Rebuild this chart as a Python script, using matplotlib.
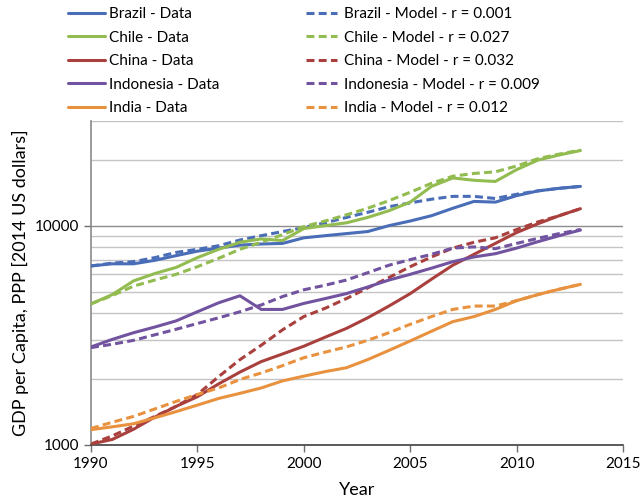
import matplotlib.pyplot as plt
from matplotlib.ticker import FixedLocator, NullFormatter, FixedFormatter

years = list(range(1990, 2014))

brazil_data = [6550, 6700, 6700, 6950, 7300, 7650, 7900, 8150, 8250, 8300, 8800, 9000,
               9200, 9400, 10000, 10500, 11100, 12000, 12900, 12800, 13700, 14400, 14800, 15100]
brazil_model = [6550, 6750, 6850, 7150, 7550, 7800, 8100, 8600, 9000, 9400, 9800, 10300,
                10900, 11500, 12200, 12700, 13200, 13600, 13600, 13300, 13900, 14400, 14800, 15100]
chile_data = [4400, 4850, 5600, 6050, 6450, 7150, 7800, 8400, 8700, 8550, 9700, 10000,
              10300, 10900, 11700, 12800, 15100, 16500, 16100, 15900, 18000, 19900, 21000, 22000]
chile_model = [4400, 4800, 5300, 5650, 6000, 6500, 7100, 7800, 8400, 9100, 9900, 10500,
               11200, 12000, 13000, 14200, 15600, 16800, 17300, 17600, 18700, 20200, 21200, 22100]
china_data = [1010, 1060, 1180, 1340, 1500, 1660, 1900, 2150, 2400, 2600, 2820, 3100,
              3400, 3800, 4300, 4900, 5700, 6600, 7400, 8300, 9300, 10200, 11100, 11950]
china_model = [1010, 1100, 1220, 1350, 1500, 1700, 2050, 2450, 2850, 3350, 3850, 4200,
               4650, 5200, 5800, 6500, 7200, 7900, 8400, 8800, 9600, 10400, 11100, 11950]
indonesia_data = [2800, 3030, 3250, 3450, 3680, 4050, 4450, 4790, 4150, 4150, 4420, 4650,
                  4900, 5250, 5650, 6000, 6400, 6850, 7200, 7450, 7900, 8450, 9000, 9550]
indonesia_model = [2780, 2880, 3000, 3180, 3370, 3580, 3800, 4050, 4350, 4750, 5100, 5350,
                   5650, 6100, 6600, 7000, 7400, 7900, 8000, 7850, 8300, 8750, 9200, 9600]
india_data = [1175, 1210, 1250, 1330, 1420, 1520, 1630, 1720, 1820, 1960, 2060, 2160,
              2250, 2450, 2700, 2980, 3300, 3650, 3850, 4150, 4550, 4850, 5130, 5400]
india_model = [1190, 1270, 1350, 1460, 1580, 1700, 1820, 1990, 2130, 2300, 2500, 2650,
               2800, 3000, 3250, 3550, 3850, 4150, 4300, 4300, 4550, 4850, 5130, 5400]

countries = ['Brazil', 'Chile', 'China', 'Indonesia', 'India']
rates = ['0.001', '0.027', '0.032', '0.009', '0.012']
colors = ['#4A6DB8', '#93BC50', '#A9403D', '#7153A0', '#E8923F']
data = [brazil_data, chile_data, china_data, indonesia_data, india_data]
models = [brazil_model, chile_model, china_model, indonesia_model, india_model]

plt.rcParams['font.family'] = ['Lato', 'DejaVu Sans']

fig = plt.figure(figsize=(6.42, 5.03), dpi=100)
ax = fig.add_axes([91 / 642, 58 / 503, 532 / 642, 324 / 503])

data_lines = []
model_lines = []
for name, r, c, d, m in zip(countries, rates, colors, data, models):
    ld, = ax.plot(years, d, color=c, lw=2.2, solid_capstyle='round',
                  label=f'{name} - Data', zorder=3)
    lm, = ax.plot(years, m, color=c, lw=2.2, dashes=(2.6, 1.4),
                  label=f'{name} - Model - r = {r}', zorder=3)
    data_lines.append(ld)
    model_lines.append(lm)

ax.set_yscale('log')
ax.set_ylim(1000, 30000)
ax.set_xlim(1990, 2015)
ax.set_xticks(range(1990, 2016, 5))
ax.yaxis.set_major_locator(FixedLocator([1000, 10000]))
ax.yaxis.set_major_formatter(FixedFormatter(['1000', '10000']))
ax.yaxis.set_minor_locator(FixedLocator([2000, 3000, 4000, 5000, 6000, 7000, 8000, 9000,
                                         20000, 30000]))
ax.yaxis.set_minor_formatter(NullFormatter())
ax.grid(True, which='major', axis='y', color='#8c8c8c', lw=1.0, zorder=0)
ax.grid(True, which='minor', axis='y', color='#c4c4c4', lw=1.0, zorder=0)
ax.tick_params(axis='y', which='minor', length=0)
ax.tick_params(axis='both', which='major', direction='out', length=5, width=1,
               color='#6e6e6e', labelsize=11)
for s in ['top', 'right']:
    ax.spines[s].set_visible(False)
ax.spines['bottom'].set_color('#404040')
ax.spines['bottom'].set_linewidth(1.2)
ax.spines['left'].set_color('#8a8a8a')
ax.spines['left'].set_linewidth(1.2)

ax.set_xlabel('Year', fontsize=13, labelpad=8)
ax.set_ylabel('GDP per Capita, PPP [2014 US dollars]', fontsize=13, labelpad=4)

leg1 = fig.legend(handles=data_lines, loc='upper left', bbox_to_anchor=(62 / 642, 0.998),
                  frameon=False, fontsize=11, handlelength=2.4, handletextpad=0.3,
                  labelspacing=0.62, borderaxespad=0)
leg2 = fig.legend(handles=model_lines, loc='upper left', bbox_to_anchor=(300 / 642, 0.998),
                  frameon=False, fontsize=11, handlelength=2.0, handletextpad=0.45,
                  labelspacing=0.62, borderaxespad=0)

fig.savefig('out.png', dpi=100)
